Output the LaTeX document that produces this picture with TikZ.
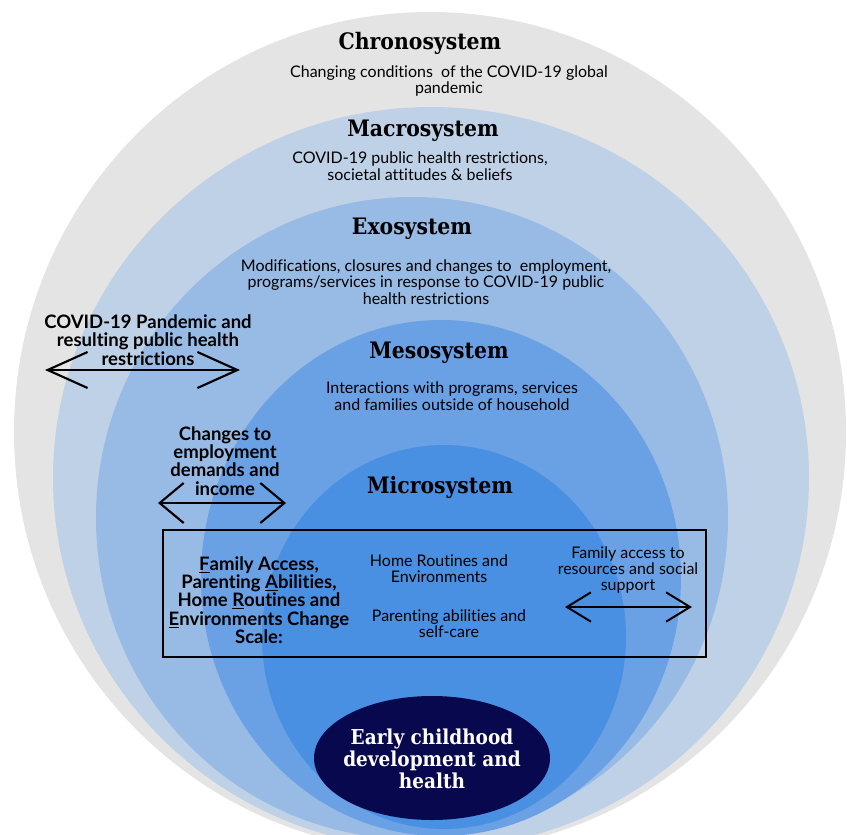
\documentclass[tikz,border=0pt]{standalone}
\usepackage{fontspec}
\setmainfont{Lato}[Ligatures=NoCommon]
\newfontfamily\headfont{DejaVu Serif Condensed}
\usetikzlibrary{arrows.meta,shapes.geometric}
\definecolor{chrono}{RGB}{228,228,228}
\definecolor{macro}{RGB}{191,209,231}
\definecolor{exo}{RGB}{152,187,229}
\definecolor{meso}{RGB}{106,160,228}
\definecolor{micro}{RGB}{74,144,226}
\definecolor{navy}{RGB}{8,8,78}
\tikzset{
  head/.style={font=\headfont\bfseries\fontsize{17}{19}\selectfont, inner sep=0pt},
  desc/.style={font=\fontsize{12}{12.4}\selectfont, align=center, inner sep=0pt},
  lbl/.style={font=\bfseries\fontsize{13.9}{13.7}\selectfont, align=center, inner sep=0pt},
  boxtxt/.style={font=\fontsize{12}{12.2}\selectfont, align=center, inner sep=0pt},
  dbl/.style={line width=1.6pt, {Straight Barb[length=30pt,width=27pt]}-{Straight Barb[length=30pt,width=27pt]}},
  dblmid/.style={line width=1.6pt, {Straight Barb[length=18pt,width=30pt]}-{Straight Barb[length=18pt,width=30pt]}},
  dblsmall/.style={line width=1.5pt, {Straight Barb[length=18pt,width=22pt]}-{Straight Barb[length=18pt,width=22pt]}}
}
\begin{document}
\begin{tikzpicture}[x=0.75pt,y=-0.75pt]
\useasboundingbox[fill=white] (0,0) rectangle (847,835);
% nested systems
\fill[chrono] (430,432) ellipse [x radius=416, y radius=420];
\fill[macro] (431,478) ellipse [x radius=378, y radius=371];
\fill[exo] (412,518) ellipse [x radius=316, y radius=321];
\fill[meso] (441,578) ellipse [x radius=240, y radius=258];
\fill[micro] (444,637) ellipse [x radius=182, y radius=192];
% headings and descriptions
\node[head] (chrono) at (420,43) {Chronosystem};
\node[desc] (chronod) at (449,81) {Changing conditions\ \ of the COVID-19 global\\pandemic};
\node[head] (macro) at (423,131) {Macrosystem};
\node[desc] (macrod) at (420,166) {COVID-19 public health restrictions,\\societal attitudes \& beliefs};
\node[head] (exo) at (412,229) {Exosystem};
\node[desc] (exod) at (426,282) {Modifications, closures and changes to\ \ employment,\\programs/services in response to COVID-19 public\\health restrictions};
\node[head] (meso) at (439,353) {Mesosystem};
\node[desc] (mesod) at (452,396) {Interactions with programs, services\\and families outside of household};
\node[head] (micro) at (440,487) {Microsystem};
% side labels with arrows
\node[lbl] (covid) at (148,340) {COVID-19 Pandemic and\\resulting public health\\restrictions};
\coordinate (a1l) at (45,370);
\coordinate (a1r) at (240,370);
\draw[dbl] (a1l) -- (a1r);
\node[lbl] (emp) at (225,461) {Changes to\\employment\\demands and\\income};
\coordinate (a2l) at (158,503);
\coordinate (a2r) at (286,503);
\draw[dblmid] (a2l) -- (a2r);
% change scale box
\node[draw=black, line width=1.1pt, minimum width=407pt, minimum height=95pt, inner sep=0pt] (box) at (434.5,593.5) {};
\node[lbl] (scale) at (259,600) {\underline{F}amily Access,\\Parenting \underline{A}bilities,\\Home \underline{R}outines and\\\underline{E}nvironments Change\\Scale:};
\node[boxtxt] (home) at (439,569) {Home Routines and\\Environments};
\node[boxtxt] (parent) at (449,624) {Parenting abilities and\\self-care};
\node[boxtxt] (fam) at (628,570) {Family access to\\resources and social\\support};
\coordinate (a3l) at (565,607);
\coordinate (a3r) at (692,607);
\draw[dblsmall] (a3l) -- (a3r);
% centre
\fill[navy] (432,758) ellipse [x radius=118, y radius=62];
\node[text=white, align=center, inner sep=0pt, font=\headfont\bfseries\fontsize{15.4}{16.6}\selectfont] (child) at (432,759)
  {Early childhood\\development and\\health};
\end{tikzpicture}
\end{document}
